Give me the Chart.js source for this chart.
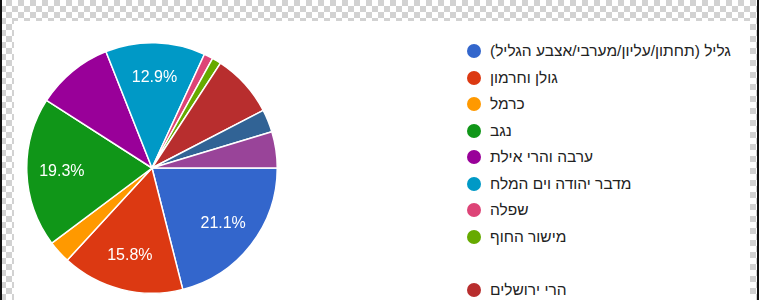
<!DOCTYPE html>
<html lang="he">
<head>
<meta charset="utf-8">
<script src="https://cdn.jsdelivr.net/npm/chart.js@4.4.1/dist/chart.umd.min.js"></script>
<style>
    html, body {
        margin: 0;
        padding: 0;
        width: 759px;
        height: 300px;
        overflow: hidden;
    }
    body {
        position: relative;
        background: repeating-conic-gradient(#d2d2d2 0 25%, #ffffff 0 50%) 0 0 / 12px 12px;
        font-family: Arial, "Liberation Sans", sans-serif;
    }
    .edge {
        position: absolute;
        top: 0;
        width: 2px;
        height: 300px;
        background: #111;
    }
    #panel {
        position: absolute;
        left: 14px;
        top: 21px;
        width: 736px;
        height: 279px;
        background: #fff;
    }
    #pieBox {
        position: absolute;
        left: 26px;
        top: 42px;
        width: 252px;
        height: 252px;
    }
    #legend {
        position: absolute;
        left: 467px;
        top: 38px;
    }
    .legend-row {
        display: flex;
        align-items: center;
        height: 26.5px;
    }
    .legend-dot {
        width: 14px;
        height: 14px;
        border-radius: 50%;
        margin-right: 9px;
        flex: none;
    }
    .legend-text {
        font-size: 15.5px;
        color: #222;
        white-space: nowrap;
    }
</style>
</head>
<body>
<div id="panel"></div>
<div class="edge" style="left:0"></div>
<div class="edge" style="left:757px"></div>
<div id="pieBox"><canvas id="pieChart"></canvas></div>
<div id="legend"></div>

<script>
// regions (legend order = slice order)
const regions = [
    'גליל (תחתון/עליון/מערבי/אצבע הגליל)',
    'גולן וחרמון',
    'כרמל',
    'נגב',
    'ערבה והרי אילת',
    'מדבר יהודה וים המלח',
    'שפלה',
    'מישור החוף',
    'הרי ירושלים',
    'שומרון',
    'בקעת הירדן'
];
// answers per region (171 total)
const answers = [36, 27, 5, 33, 17, 22, 2, 2, 14, 5, 8];
const sliceColors = [
    '#3366cc', '#dc3912', '#ff9900', '#109618', '#990099', '#0099c6',
    '#dd4477', '#66aa00', '#b82e2e', '#316395', '#994499'
];
// the legend leaves one empty row before this item
const legendGapBefore = 8;
const minLabelPercent = 10;

const total = answers.reduce((a, b) => a + b, 0);

const percentLabels = {
    id: 'percentLabels',
    afterDatasetsDraw(chart) {
        const ctx = chart.ctx;
        const meta = chart.getDatasetMeta(0);
        ctx.save();
        ctx.fillStyle = '#ffffff';
        ctx.font = '16px Arial, "Liberation Sans", sans-serif';
        ctx.textAlign = 'center';
        ctx.textBaseline = 'middle';
        meta.data.forEach((arc, i) => {
            const pct = answers[i] / total * 100;
            if (pct < minLabelPercent) return;
            const p = arc.getProps(['x', 'y', 'startAngle', 'endAngle', 'outerRadius'], true);
            const mid = (p.startAngle + p.endAngle) / 2;
            const r = p.outerRadius * 0.72;
            ctx.fillText(pct.toFixed(1) + '%', p.x + Math.cos(mid) * r, p.y + Math.sin(mid) * r);
        });
        ctx.restore();
    }
};

function renderLegend() {
    const legend = document.getElementById('legend');
    regions.forEach((name, i) => {
        if (i === legendGapBefore) {
            const gap = document.createElement('div');
            gap.className = 'legend-row';
            legend.appendChild(gap);
        }
        const row = document.createElement('div');
        row.className = 'legend-row';
        const dot = document.createElement('span');
        dot.className = 'legend-dot';
        dot.style.background = sliceColors[i];
        const text = document.createElement('span');
        text.className = 'legend-text';
        text.dir = 'rtl';
        text.textContent = name;
        row.appendChild(dot);
        row.appendChild(text);
        legend.appendChild(row);
    });
}

new Chart(document.getElementById('pieChart'), {
    type: 'pie',
    data: {
        labels: regions,
        datasets: [{
            data: answers,
            backgroundColor: sliceColors,
            borderColor: '#ffffff',
            borderWidth: 1.5
        }]
    },
    options: {
        responsive: true,
        maintainAspectRatio: false,
        animation: false,
        rotation: 90,
        events: [],
        plugins: {
            legend: { display: false },
            tooltip: { enabled: false }
        }
    },
    plugins: [percentLabels]
});

renderLegend();
</script>
</body>
</html>
